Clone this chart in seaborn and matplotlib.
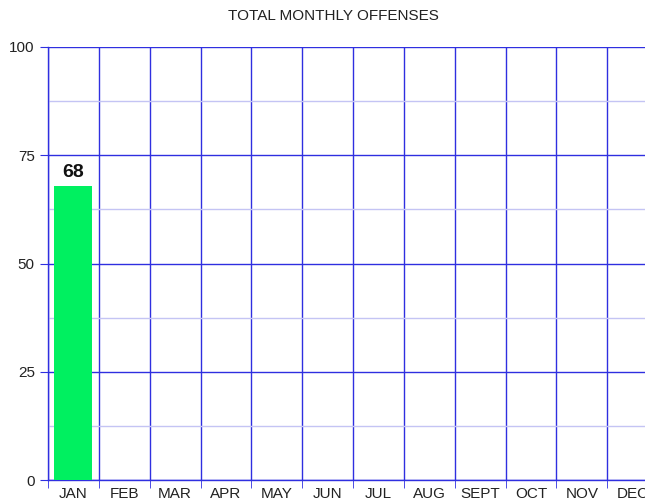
import seaborn as sns
import matplotlib.pyplot as plt
import pandas as pd
from matplotlib.ticker import MultipleLocator, FixedLocator

months = ['JAN', 'FEB', 'MAR', 'APR', 'MAY', 'JUN', 'JUL', 'AUG', 'SEPT', 'OCT', 'NOV', 'DEC']
offenses = [68, 0, 0, 0, 0, 0, 0, 0, 0, 0, 0, 0]
shown = ['68'] + [''] * 11

df = pd.DataFrame({'month': months, 'offenses': offenses})

sns.set_style('white')
plt.rcParams['font.family'] = ['Liberation Sans', 'DejaVu Sans']

fig = plt.figure(figsize=(6.45, 5.0), dpi=100)
ax = fig.add_axes([48 / 645, 20 / 500, 610 / 645, 433 / 500])

sns.barplot(data=df, x='month', y='offenses', color='#00f060', width=0.75,
            saturation=1, linewidth=0, ax=ax, zorder=3)
ax.bar_label(ax.containers[0], labels=shown, padding=3, fontsize=14,
             fontweight='bold', color='#111111')

ax.set_ylim(0, 100)
ax.set_xlim(-0.5, 11.5)
ax.yaxis.set_major_locator(MultipleLocator(25))
ax.yaxis.set_minor_locator(MultipleLocator(12.5))
ax.xaxis.set_minor_locator(FixedLocator([i - 0.5 for i in range(13)]))

ax.grid(which='major', axis='y', color='#2f2fe0', lw=1, zorder=1)
ax.grid(which='minor', axis='y', color='#c4c4f4', lw=1, zorder=1)
ax.grid(which='minor', axis='x', color='#2f2fe0', lw=1, zorder=1)
ax.set_axisbelow(True)

for s in ['left', 'bottom']:
    ax.spines[s].set_color('#2f2fe0')
    ax.spines[s].set_linewidth(1)
for s in ['top', 'right']:
    ax.spines[s].set_visible(False)

ax.tick_params(axis='y', which='major', length=6, color='#2f2fe0', labelsize=11,
               labelcolor='#222222', left=True)
ax.tick_params(axis='y', which='minor', length=0)
ax.tick_params(axis='x', which='major', length=0, labelsize=11, labelcolor='#222222',
               pad=5)
ax.tick_params(axis='x', which='minor', length=6, color='#2f2fe0', bottom=True)

ax.set_xlabel('')
ax.set_ylabel('')
fig.text(333 / 645, 1 - 16 / 500, 'TOTAL MONTHLY OFFENSES', ha='center', va='center',
         fontsize=11, color='#222222')

fig.savefig('out.png', dpi=100)
